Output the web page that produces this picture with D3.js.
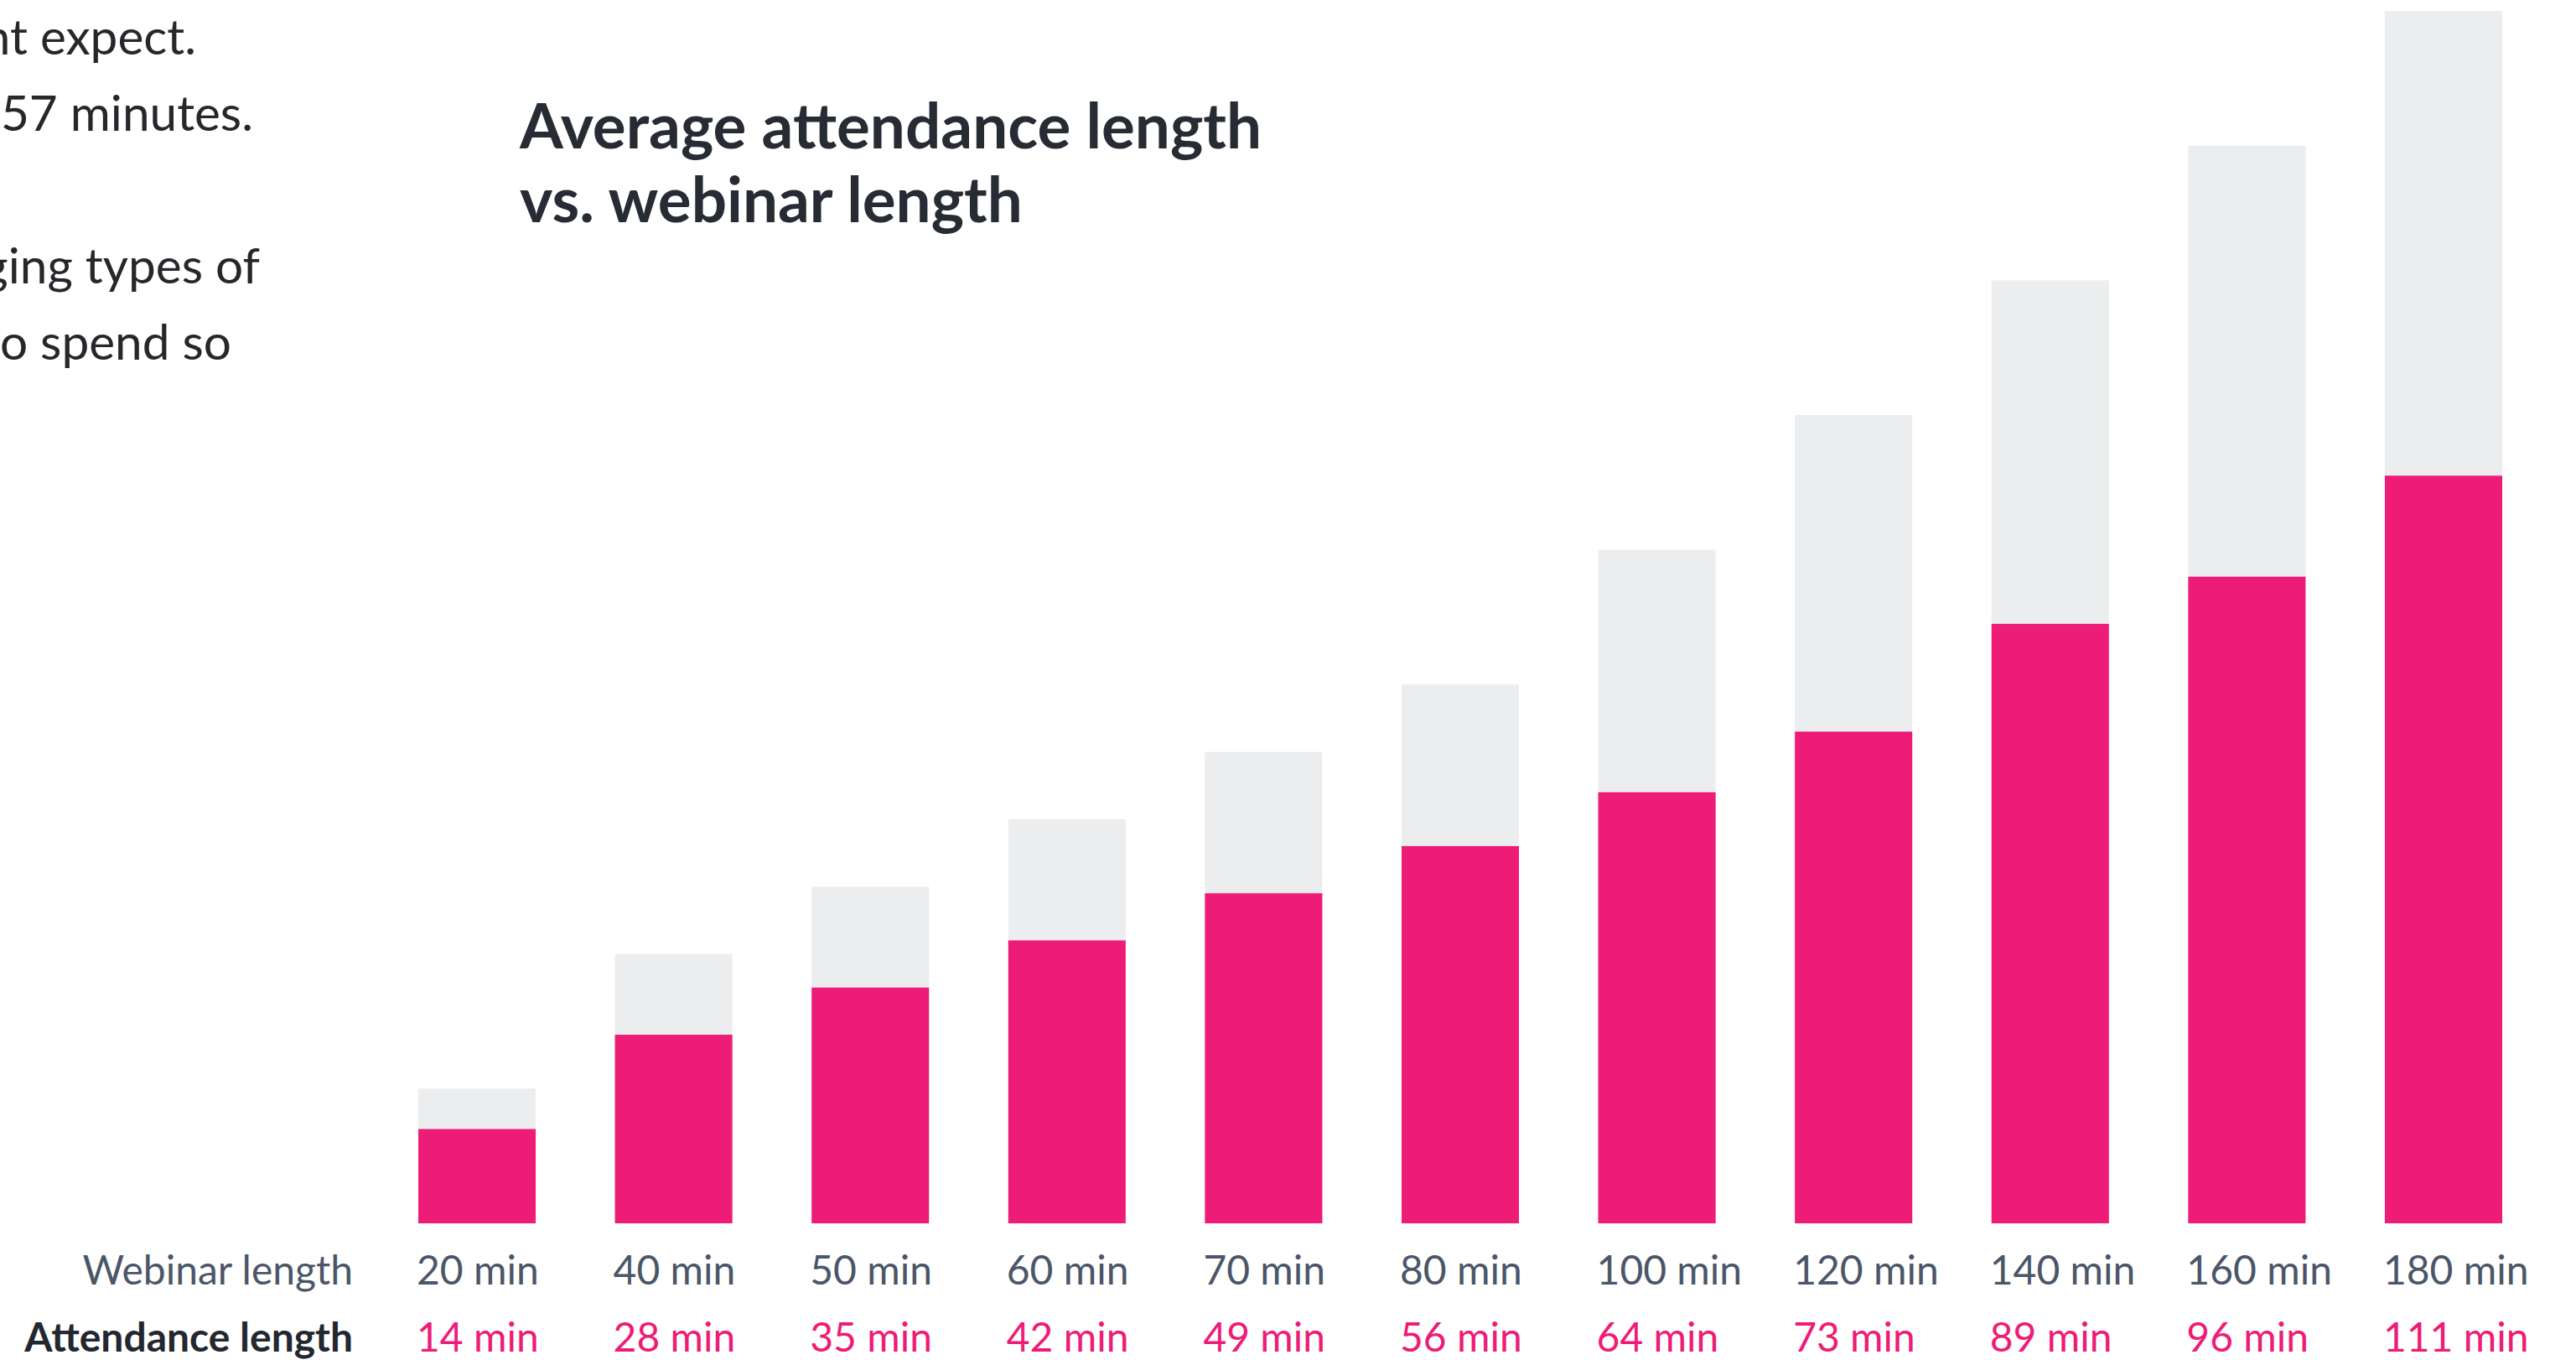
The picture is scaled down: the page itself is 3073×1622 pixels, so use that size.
<!DOCTYPE html>
<html>
<head>
<meta charset="utf-8">
<script src="https://cdn.jsdelivr.net/npm/d3@7"></script>
<style>
  html, body { margin: 0; padding: 0; background: #fff; }
  svg { display: block; font-family: Lato, "Noto Sans", sans-serif; }
</style>
</head>
<body>
<svg id="chart" width="3073" height="1622"></svg>
<script>
// webinar length (min) and average attendance length (min)
const categories = ['20 min', '40 min', '50 min', '60 min', '70 min', '80 min', '100 min', '120 min', '140 min', '160 min', '180 min'];
const webinarLength = [20, 40, 50, 60, 70, 80, 100, 120, 140, 160, 180];
const attendanceLength = [14, 28, 35, 42, 49, 56, 64, 73, 89, 96, 111];
const attendanceLabels = ['14 min', '28 min', '35 min', '42 min', '49 min', '56 min', '64 min', '73 min', '89 min', '96 min', '111 min'];

// cut-off paragraph on the left edge of the page
const bodyLines = ['nt expect.', '57 minutes.', '', 'ging types of', 'o spend so'];
const titleLines = ['Average attendance length', 'vs. webinar length'];

const PINK = '#ed1c77';
const GREY = '#ecedef';

const svg = d3.select('#chart');

const data = categories.map((c, i) => ({
    cat: c,
    webinar: webinarLength[i],
    attend: attendanceLength[i],
    attendLabel: attendanceLabels[i]
}));

const x = d3.scaleBand()
    .domain(categories)
    .range([499, 2985])
    .paddingInner(0.403)
    .paddingOuter(0);

const y = d3.scaleLinear()
    .domain([0, 180])
    .range([1459, 13]);

// body text fragments
svg.append('g')
    .selectAll('text')
    .data(bodyLines)
    .join('text')
    .attr('x', (d, i) => [234, 302, 0, 310, 276][i])
    .attr('y', (d, i) => 65 + i * 91)
    .attr('text-anchor', 'end')
    .attr('font-size', 58.5)
    .attr('fill', '#25272b')
    .text(d => d);

// title
svg.append('g')
    .selectAll('text')
    .data(titleLines)
    .join('text')
    .attr('x', 620)
    .attr('y', (d, i) => 177 + i * 88)
    .attr('font-size', 74.6)
    .attr('font-weight', 700)
    .attr('fill', '#272b33')
    .text(d => d);

const bars = svg.append('g').attr('class', 'bars');

bars.selectAll('.webinar')
    .data(data)
    .join('rect')
    .attr('class', 'webinar')
    .attr('x', d => x(d.cat))
    .attr('width', x.bandwidth())
    .attr('y', d => y(d.webinar))
    .attr('height', d => y(0) - y(d.webinar))
    .attr('fill', GREY);

bars.selectAll('.attend')
    .data(data)
    .join('rect')
    .attr('class', 'attend')
    .attr('x', d => x(d.cat))
    .attr('width', x.bandwidth())
    .attr('y', d => y(d.attend))
    .attr('height', d => y(0) - y(d.attend))
    .attr('fill', PINK);

// row headers
svg.append('text')
    .attr('x', 421)
    .attr('y', 1532)
    .attr('text-anchor', 'end')
    .attr('font-size', 48)
    .attr('fill', '#4b5668')
    .text('Webinar length');

svg.append('text')
    .attr('x', 421)
    .attr('y', 1612)
    .attr('text-anchor', 'end')
    .attr('font-size', 48)
    .attr('font-weight', 700)
    .attr('fill', '#23272f')
    .text('Attendance length');

// value rows
const labels = svg.append('g').attr('class', 'labels');

labels.selectAll('.wl')
    .data(data)
    .join('text')
    .attr('class', 'wl')
    .attr('x', d => x(d.cat) - 2)
    .attr('y', 1532)
    .attr('font-size', 48)
    .attr('fill', '#4b5668')
    .text(d => d.cat);

labels.selectAll('.al')
    .data(data)
    .join('text')
    .attr('class', 'al')
    .attr('x', d => x(d.cat) - 2)
    .attr('y', 1612)
    .attr('font-size', 48)
    .attr('fill', PINK)
    .text(d => d.attendLabel);
</script>
</body>
</html>
